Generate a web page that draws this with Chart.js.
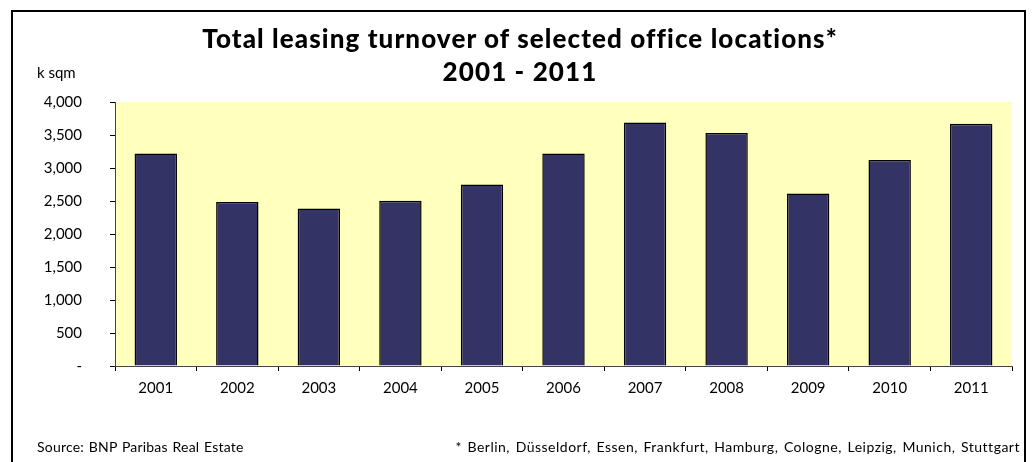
<!DOCTYPE html>
<html>
<head>
<meta charset="utf-8">
<script src="https://cdn.jsdelivr.net/npm/chart.js@4/dist/chart.umd.min.js"></script>
<style>
  body { margin: 0; background: #fff; }
  #wrap { position: relative; width: 1034px; height: 462px; overflow: hidden; font-family: Lato, "Open Sans", sans-serif; color: #000; }
  #frame { position: absolute; left: 11px; top: 10px; width: 1015px; height: 470px; border: 2px solid #000; box-sizing: border-box; }
  canvas { position: absolute; left: 0; top: 0; }
  .t { position: absolute; white-space: nowrap; }
  #title { left: 0; width: 1040px; top: 22px; text-align: center; font-weight: 900; font-size: 26px; line-height: 33px; letter-spacing: 1.1px; }
  #unit { left: 37px; top: 63px; font-size: 15px; }
  #src { left: 37px; top: 438px; font-size: 14px; letter-spacing: 0.2px; word-spacing: 1px; }
  #note { right: 14px; top: 438px; font-size: 14px; letter-spacing: 0.5px; word-spacing: 1.5px; }
</style>
</head>
<body>
<div id="wrap">
  <div id="frame"></div>
  <canvas id="myChart" width="1034" height="462"></canvas>
  <div class="t" id="title">Total leasing turnover of selected office locations*<br>2001 - 2011</div>
  <div class="t" id="unit">k sqm</div>
  <div class="t" id="src">Source: BNP Paribas Real Estate</div>
  <div class="t" id="note">* Berlin, Düsseldorf, Essen, Frankfurt, Hamburg, Cologne, Leipzig, Munich, Stuttgart</div>
</div>
<script>
// years and leasing turnover in k sqm
var years = ['2001', '2002', '2003', '2004', '2005', '2006', '2007', '2008', '2009', '2010', '2011'];
var turnover = [3220, 2485, 2385, 2505, 2750, 3220, 3690, 3530, 2615, 3120, 3670];
var yTicks = [0, 500, 1000, 1500, 2000, 2500, 3000, 3500, 4000];

var plotBg = {
    id: 'plotBg',
    beforeDraw: function(chart) {
        var a = chart.chartArea, ctx = chart.ctx;
        ctx.save();
        ctx.fillStyle = '#ffffbe';
        ctx.fillRect(a.left, a.top, a.right - a.left, a.bottom - a.top);
        ctx.restore();
    }
};

function main() {
    var ctx = document.getElementById('myChart').getContext('2d');
    new Chart(ctx, {
        type: 'bar',
        data: {
            labels: years,
            datasets: [{
                data: turnover,
                backgroundColor: '#333366',
                borderColor: '#000',
                borderWidth: 1.5,
                categoryPercentage: 1,
                barPercentage: 0.52
            }]
        },
        options: {
            responsive: false,
            animation: false,
            layout: { padding: { left: 0, right: 22, top: 102, bottom: 56 } },
            plugins: { legend: { display: false }, tooltip: { enabled: false } },
            scales: {
                x: {
                    afterFit: function(s) { s.height = 40; },
                    grid: { drawOnChartArea: false, tickLength: 5, color: '#000', offset: true },
                    border: { color: '#444', width: 1 },
                    ticks: { color: '#000', padding: 8, font: { family: 'Lato', size: 15 } }
                },
                y: {
                    min: 0, max: 4000,
                    afterFit: function(s) { s.width = 115; },
                    afterBuildTicks: function(s) { s.ticks = yTicks.map(function(v) { return { value: v }; }); },
                    grid: { drawOnChartArea: false, tickLength: 5, color: '#000' },
                    border: { color: '#444', width: 1 },
                    ticks: {
                        color: '#000', padding: 28, font: { family: 'Lato', size: 15 },
                        callback: function(v) { return v === 0 ? '-' : v.toLocaleString('en-US'); }
                    }
                }
            }
        },
        plugins: [plotBg]
    });
}

document.addEventListener('DOMContentLoaded', main);
</script>
</body>
</html>
